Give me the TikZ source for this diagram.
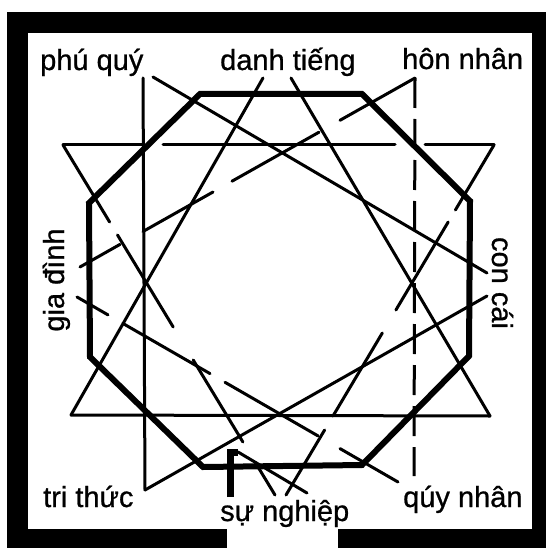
\documentclass[tikz,border=0pt]{standalone}
\usepackage{fontspec}
\setmainfont[FakeBold=0.8]{Liberation Sans}
\begin{document}
\begin{tikzpicture}[x=1pt,y=-1pt,
  strand/.style={line width=3pt,line cap=round},
  octa/.style={line width=6pt,line join=miter},
  lbl/.style={font=\fontsize{29}{34}\selectfont,inner sep=0pt}]
  \useasboundingbox (0,0) rectangle (546,548);
  % frame with the opening at the bottom
  \fill (7,12) rectangle (546,548);
  \fill[white] (28,33) rectangle (532,529);
  \fill[white] (227,520) rectangle (338,548);
  % upright star
  \draw[strand] (63,145) -- (143,145);
  \draw[strand] (163,145) -- (395,145);
  \draw[strand] (425,145) -- (494,145);
  \draw[strand] (71,415) -- (490,416);
  \draw[strand] (71,415) -- (263,78);
  \draw[strand] (490,416) -- (291,78);
  \draw[strand] (63,145) -- (109.6,222);
  \draw[strand] (117.5,235) -- (173.2,327);
  \draw[strand] (193.2,360) -- (242.9,442);
  \draw[strand] (255,462) -- (275,495);
  \draw[strand] (494,145) -- (455.4,210);
  \draw[strand] (448.2,222) -- (395.9,310);
  \draw[strand] (382.3,333) -- (333,416);
  \draw[strand] (324.6,430) -- (286,495);
  % lying star
  \draw[strand] (143,78) -- (145,490);
  \draw[strand,line cap=butt,dash pattern=on 30pt off 11pt] (415,78) -- (414,476);
  \draw[strand] (153,77) -- (487,273);
  \draw[strand] (145,490) -- (487,296);
  \draw[strand] (415,78) -- (340,120.3);
  \draw[strand] (319,132.2) -- (232,181.2);
  \draw[strand] (213,192) -- (143,231.5);
  \draw[strand] (120,244.4) -- (80,267);
  \draw[strand] (398,482) -- (340,448.6);
  \draw[strand] (318,435.9) -- (225,382.3);
  \draw[strand] (210,373.6) -- (123,323.5);
  \draw[strand] (108,314.9) -- (77,297);
  % door
  \draw[line width=7pt] (230,497) -- (230,452) -- (238,452);
  \draw[strand] (238,452) -- (307,493);
  % octagon
  \draw[octa] (200,94) -- (362,94) -- (470,201) -- (469,356) -- (362,465)
    -- (203,467) -- (90,357) -- (89,203) -- cycle;
  % labels
  \node[lbl,anchor=base west] (phu) at (40,70) {phú quý};
  \node[lbl,anchor=base west] (danh) at (220,70) {danh tiếng};
  \node[lbl,anchor=base west] (hon) at (402,69) {hôn nhân};
  \node[lbl,anchor=base,rotate=90] (gia) at (64,280) {gia đình};
  \node[lbl,anchor=base,rotate=-90] (con) at (492,283) {con cái};
  \node[lbl,anchor=base west] (tri) at (43,507) {tri thức};
  \node[lbl,anchor=base west] (su) at (220,521) {sự nghiệp};
  \node[lbl,anchor=base west] (quy) at (403,507) {qúy nhân};
\end{tikzpicture}
\end{document}
